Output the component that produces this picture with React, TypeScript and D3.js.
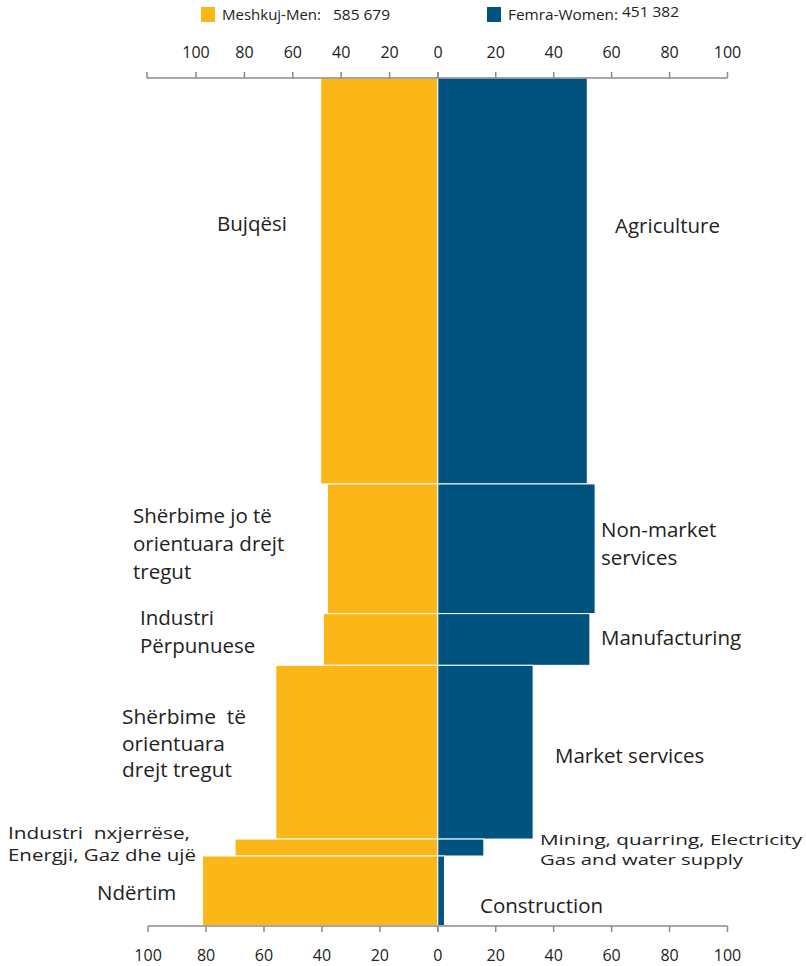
import React from "react";
import * as d3 from "d3";

const sectorsEn = [
  ["Agriculture"],
  ["Non-market", "services"],
  ["Manufacturing"],
  ["Market services"],
  ["Mining, quarring, Electricity", "Gas and water supply"],
  ["Construction"],
];
const sectorsSq = [
  ["Bujqësi"],
  ["Shërbime jo të", "orientuara drejt", "tregut"],
  ["Industri", "Përpunuese"],
  ["Shërbime  të", "orientuara", "drejt tregut"],
  ["Industri  nxjerrëse,", "Energji, Gaz dhe ujë"],
  ["Ndërtim"],
];
const menValues = [40.4, 38.1, 39.5, 55.9, 70.0, 81.2];
const womenValues = [51.6, 54.3, 52.5, 32.9, 15.9, 2.3];
const shares = [47.9, 15.3, 6.1, 20.5, 2.0, 8.2];
const tickValues = [0, 20, 40, 60, 80, 100];
const legendLabels = ["Meshkuj-Men:", "Femra-Women:"];
const legendTotals = ["585 679", "451 382"];

const YELLOW = "#FBB717";
const BLUE = "#00537F";
const AXIS = "#8a8a8a";
const FONT = "'Open Sans', 'Noto Sans', sans-serif";

// label layout (positions of text blocks)
const sqLayout = [
  { x: 217, y: 231, lh: 28 },
  { x: 133, y: 523, lh: 28 },
  { x: 140, y: 625, lh: 28 },
  { x: 122, y: 724, lh: 26.5, fs: 19.5, widths: [124, 103, 110] },
  { x: 8, y: 839, lh: 22, cond: [182, 188], fs: 17 },
  { x: 97, y: 900, lh: 28 },
];
const enLayout = [
  { x: 615, y: 233, lh: 28 },
  { x: 601, y: 537, lh: 28 },
  { x: 601, y: 645, lh: 28 },
  { x: 555, y: 763, lh: 28 },
  { x: 540, y: 845, lh: 19.5, cond: [262, 203], fs: 14 },
  { x: 480, y: 913, lh: 28 },
];

export default function App() {
  const zero = 437.8;
  const xRight = d3.scaleLinear().domain([0, 100]).range([zero, 727.5]);
  const xLeft = d3.scaleLinear().domain([0, 100]).range([zero, 148.1]);
  const xTopLeft = d3.scaleLinear().domain([0, 100]).range([438, 196]);
  const cum = [0, ...d3.cumsum(shares)];
  const total = d3.sum(shares);
  const y = d3.scaleLinear().domain([0, total]).range([78, 925.5]);

  const topY = 78;
  const botY = 926;

  const renderBlock = (lines: string[], L: any, key: string) =>
    lines.map((ln, j) => {
      const extra: any = {};
      if (L.fs) extra.fontSize = L.fs;
      if (L.cond) {
        extra.textLength = L.cond[j];
        extra.lengthAdjust = "spacingAndGlyphs";
      } else if (L.widths) {
        extra.textLength = L.widths[j];
        extra.lengthAdjust = "spacingAndGlyphs";
      }
      return (
        <text key={key + j} x={L.x} y={L.y + j * L.lh} style={{ whiteSpace: "pre" }} {...extra}>
          {ln}
        </text>
      );
    });

  return (
    <svg
      width={806}
      height={966}
      style={{ position: "absolute", left: 0, top: 0, background: "#fff" }}
      fontFamily={FONT}
    >
      {/* legend */}
      <g>
        <rect x={201} y={7} width={14} height={15} fill={YELLOW} />
        <text x={222} y={20} fontSize={14} fill="#222" textLength={99} lengthAdjust="spacingAndGlyphs">
          {legendLabels[0]}
        </text>
        <text x={333} y={20} fontSize={14} fill="#222" textLength={57} lengthAdjust="spacingAndGlyphs">
          {legendTotals[0]}
        </text>
        <rect x={487} y={7} width={14} height={15} fill={BLUE} />
        <text x={508} y={20} fontSize={14} fill="#222" textLength={110} lengthAdjust="spacingAndGlyphs">
          {legendLabels[1]}
        </text>
        <text x={622} y={17} fontSize={14} fill="#222" textLength={57} lengthAdjust="spacingAndGlyphs">
          {legendTotals[1]}
        </text>
      </g>

      {/* bars */}
      {shares.map((s, i) => (
        <g key={i}>
          <rect
            x={xLeft(menValues[i])}
            y={y(cum[i])}
            width={zero - xLeft(menValues[i])}
            height={y(cum[i + 1]) - y(cum[i])}
            fill={YELLOW}
            stroke="#fff"
            strokeWidth={1}
          />
          <rect
            x={zero}
            y={y(cum[i])}
            width={xRight(womenValues[i]) - zero}
            height={y(cum[i + 1]) - y(cum[i])}
            fill={BLUE}
            stroke="#fff"
            strokeWidth={1}
          />
        </g>
      ))}

      {/* top axis */}
      <g stroke={AXIS} strokeWidth={1.5} fill="none">
        <line x1={147} x2={xRight(100)} y1={topY} y2={topY} />
        <line x1={147} x2={147} y1={topY - 6} y2={topY} />
        {tickValues.map((t) => (
          <line key={"tl" + t} x1={xTopLeft(t)} x2={xTopLeft(t)} y1={topY - 6} y2={topY} />
        ))}
        {tickValues.map((t) => (
          <line key={"tr" + t} x1={xRight(t)} x2={xRight(t)} y1={topY - 6} y2={topY} />
        ))}
      </g>
      <g fontSize={16} fill="#222" textAnchor="middle">
        {tickValues.map((t) => (
          <text key={"tlt" + t} x={xTopLeft(t)} y={58}>{t}</text>
        ))}
        {tickValues.filter((t) => t > 0).map((t) => (
          <text key={"trt" + t} x={xRight(t)} y={58}>{t}</text>
        ))}
      </g>

      {/* bottom axis */}
      <g stroke={AXIS} strokeWidth={1.5} fill="none">
        <line x1={xLeft(100)} x2={xRight(100)} y1={botY} y2={botY} />
        {tickValues.map((t) => (
          <line key={"bl" + t} x1={xLeft(t)} x2={xLeft(t)} y1={botY} y2={botY + 6} />
        ))}
        {tickValues.map((t) => (
          <line key={"br" + t} x1={xRight(t)} x2={xRight(t)} y1={botY} y2={botY + 6} />
        ))}
      </g>
      <g fontSize={16} fill="#222" textAnchor="middle">
        {tickValues.map((t) => (
          <text key={"blt" + t} x={xLeft(t)} y={961}>{t}</text>
        ))}
        {tickValues.filter((t) => t > 0).map((t) => (
          <text key={"brt" + t} x={xRight(t)} y={961}>{t}</text>
        ))}
      </g>

      {/* category labels */}
      <g fontSize={20.5} fill="#222">
        {sectorsSq.map((lines, i) => renderBlock(lines, sqLayout[i], "sq" + i))}
        {sectorsEn.map((lines, i) => renderBlock(lines, enLayout[i], "en" + i))}
      </g>
    </svg>
  );
}
